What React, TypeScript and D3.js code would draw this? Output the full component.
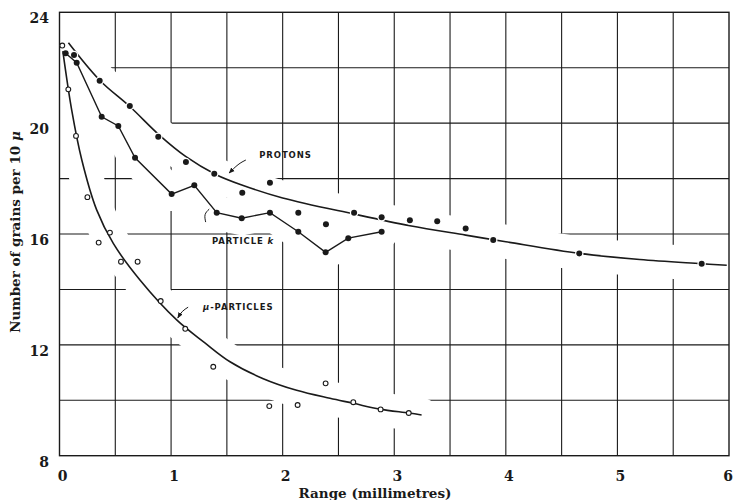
import React, { useEffect, useRef } from 'react';
import * as d3 from 'd3';

// protons: filled dots + smooth curve
const protonX = [0.13, 0.36, 0.63, 0.885, 1.133, 1.387, 1.638, 1.886, 2.14, 2.388, 2.64, 2.887, 3.14, 3.385, 3.64, 3.887, 4.658, 5.755];
const protonY = [22.46, 21.53, 20.62, 19.51, 18.6, 18.17, 17.49, 17.85, 16.77, 16.35, 16.77, 16.6, 16.5, 16.46, 16.2, 15.78, 15.3, 14.93];
const protonCurveX = [0.08, 0.36, 0.63, 0.9, 1.13, 1.4, 1.64, 2.0, 2.64, 3.14, 3.64, 4.0, 4.66, 5.2, 5.75, 5.98];
const protonCurveY = [22.9, 21.55, 20.6, 19.55, 18.8, 18.15, 17.76, 17.3, 16.72, 16.3, 15.96, 15.72, 15.3, 15.08, 14.93, 14.87];

// particle k: filled dots joined by straight lines
const kX = [0.055, 0.154, 0.378, 0.527, 0.677, 1.005, 1.208, 1.409, 1.633, 1.886, 2.14, 2.385, 2.588, 2.887];
const kY = [22.52, 22.18, 20.23, 19.9, 18.75, 17.44, 17.76, 16.77, 16.57, 16.77, 16.08, 15.34, 15.85, 16.08];

// mu-particles: open circles + smooth curve
const muX = [0.025, 0.079, 0.148, 0.25, 0.351, 0.452, 0.551, 0.7, 0.907, 1.127, 1.378, 1.88, 2.134, 2.385, 2.633, 2.878, 3.13];
const muY = [22.8, 21.22, 19.54, 17.33, 15.69, 16.05, 15.0, 15.0, 13.58, 12.58, 11.21, 9.79, 9.83, 10.61, 9.93, 9.67, 9.54];
const muCurveX = [0.03, 0.109, 0.2, 0.333, 0.482, 0.721, 1.05, 1.3, 1.528, 1.826, 2.125, 2.424, 2.633, 2.87, 3.13, 3.245];
const muCurveY = [22.6, 20.48, 18.67, 16.87, 15.66, 14.34, 12.9, 12.08, 11.39, 10.78, 10.36, 10.07, 9.89, 9.68, 9.54, 9.47];

const xTicks = [0, 1, 2, 3, 4, 5, 6];
const yTicks = [8, 12, 16, 20, 24];

const W = 735;
const H = 500;

const App = () => {
  const ref = useRef<SVGSVGElement>(null);

  useEffect(() => {
    const svg = d3.select(ref.current);
    svg.selectAll('*').remove();

    const x = d3.scaleLinear().domain([0, 6]).range([59.5, 729]);
    const y = d3.scaleLinear().domain([8, 24]).range([455.7, 12.3]);
    const ink = '#1a1a1a';
    const serif = '"DejaVu Serif", serif';
    const sans = '"DejaVu Sans", sans-serif';

    const zip = (xs: number[], ys: number[]) => xs.map((v, i) => [v, ys[i]] as [number, number]);
    const smooth = d3.line<[number, number]>().x(d => x(d[0])).y(d => y(d[1])).curve(d3.curveCatmullRom.alpha(0.5));
    const straight = d3.line<[number, number]>().x(d => x(d[0])).y(d => y(d[1]));

    svg.append('rect').attr('width', W).attr('height', H).attr('fill', '#fff');

    const defs = svg.append('defs');
    defs.append('marker')
      .attr('id', 'arr').attr('viewBox', '0 0 10 10').attr('refX', 9).attr('refY', 5)
      .attr('markerWidth', 6).attr('markerHeight', 6).attr('orient', 'auto')
      .append('path').attr('d', 'M0,1 L10,5 L0,9 Z').attr('fill', ink);

    // grid
    const grid = svg.append('g').attr('stroke', ink).attr('stroke-width', 1.1);
    d3.range(0.5, 6, 0.5).forEach(v => {
      grid.append('line').attr('x1', x(v)).attr('x2', x(v)).attr('y1', y(24)).attr('y2', y(8));
    });
    d3.range(10, 24, 2).forEach(v => {
      grid.append('line').attr('x1', x(0)).attr('x2', x(6)).attr('y1', y(v)).attr('y2', y(v));
    });

    // white gaps in the grid round the curves
    const halo = svg.append('g').attr('fill', 'none').attr('stroke', '#fff')
      .attr('stroke-width', 34).attr('stroke-linecap', 'round').attr('stroke-linejoin', 'round');
    halo.append('path').attr('d', smooth(zip(protonCurveX, protonCurveY)));
    halo.append('path').attr('d', straight(zip(kX, kY)));
    halo.append('path').attr('d', smooth(zip(muCurveX, muCurveY)));

    // frame
    svg.append('rect')
      .attr('x', x(0)).attr('y', y(24)).attr('width', x(6) - x(0)).attr('height', y(8) - y(24))
      .attr('fill', 'none').attr('stroke', ink).attr('stroke-width', 1.4);

    // curves
    svg.append('path').attr('d', smooth(zip(protonCurveX, protonCurveY)))
      .attr('fill', 'none').attr('stroke', ink).attr('stroke-width', 1.6);
    svg.append('path').attr('d', smooth(zip(muCurveX, muCurveY)))
      .attr('fill', 'none').attr('stroke', ink).attr('stroke-width', 1.6);

    svg.append('g').selectAll('circle').data(zip(protonX, protonY)).join('circle')
      .attr('cx', d => x(d[0])).attr('cy', d => y(d[1])).attr('r', 3)
      .attr('fill', ink).attr('stroke', '#fff').attr('stroke-width', 2.5).attr('paint-order', 'stroke');

    svg.append('path').attr('d', straight(zip(kX, kY)))
      .attr('fill', 'none').attr('stroke', ink).attr('stroke-width', 1.4);
    svg.append('g').selectAll('circle').data(zip(kX, kY)).join('circle')
      .attr('cx', d => x(d[0])).attr('cy', d => y(d[1])).attr('r', 3).attr('fill', ink);

    svg.append('g').selectAll('circle').data(zip(muX, muY)).join('circle')
      .attr('cx', d => x(d[0])).attr('cy', d => y(d[1])).attr('r', 2.4)
      .attr('fill', '#fff').attr('stroke', ink).attr('stroke-width', 1.1);

    // labels with leaders
    const note = (tx: number, ty: number, parts: [string, string][]) => {
      const t = svg.append('text').attr('x', x(tx)).attr('y', y(ty))
        .attr('font-family', sans).attr('font-weight', 'bold').attr('font-size', 8.5)
        .attr('letter-spacing', 0.9).attr('fill', ink);
      parts.forEach(([s, st]) => t.append('tspan').attr('font-style', st).text(s));
      return t;
    };
    note(1.79, 18.74, [['PROTONS', 'normal']]);
    note(1.366, 15.63, [['PARTICLE ', 'normal'], ['k', 'italic']]);
    note(1.286, 13.25, [['\u03bc', 'italic'], ['-PARTICLES', 'normal']]);

    const leader = d3.line<[number, number]>().x(d => x(d[0])).y(d => y(d[1])).curve(d3.curveNatural);
    svg.append('path').attr('d', leader([[1.67, 18.67], [1.6, 18.5], [1.52, 18.2]]))
      .attr('fill', 'none').attr('stroke', ink).attr('stroke-width', 1).attr('marker-end', 'url(#arr)');
    svg.append('path').attr('d', leader([[1.342, 16.9], [1.305, 16.7], [1.31, 16.43]]))
      .attr('fill', 'none').attr('stroke', ink).attr('stroke-width', 1);
    svg.append('path').attr('d', leader([[1.153, 13.36], [1.1, 13.2], [1.06, 12.97]]))
      .attr('fill', 'none').attr('stroke', ink).attr('stroke-width', 1).attr('marker-end', 'url(#arr)');

    // tick labels
    svg.append('g').selectAll('text').data(yTicks).join('text')
      .attr('x', 49).attr('y', d => y(d) + 11).attr('text-anchor', 'end')
      .attr('font-family', serif).attr('font-weight', 'bold').attr('font-size', 14).attr('fill', ink)
      .text(d => d);
    svg.append('g').selectAll('text').data(xTicks).join('text')
      .attr('x', d => Math.min(x(d) + 3, 728)).attr('y', 481).attr('text-anchor', 'middle')
      .attr('font-family', serif).attr('font-weight', 'bold').attr('font-size', 14).attr('fill', ink)
      .text(d => d);

    // axis titles
    svg.append('text').attr('x', 375).attr('y', 498).attr('text-anchor', 'middle')
      .attr('font-family', serif).attr('font-weight', 'bold').attr('font-size', 13.5).attr('fill', ink)
      .text('Range (millimetres)');
    const yl = svg.append('text').attr('transform', 'translate(20,232) rotate(-90)').attr('text-anchor', 'middle')
      .attr('font-family', serif).attr('font-weight', 'bold').attr('font-size', 13.5).attr('fill', ink);
    yl.append('tspan').text('Number of grains per 10 ');
    yl.append('tspan').attr('font-style', 'italic').text('\u03bc');
  }, []);

  return <svg ref={ref} width={W} height={H} style={{ position: 'absolute', left: 0, top: 0 }}></svg>;
};

export default App;
